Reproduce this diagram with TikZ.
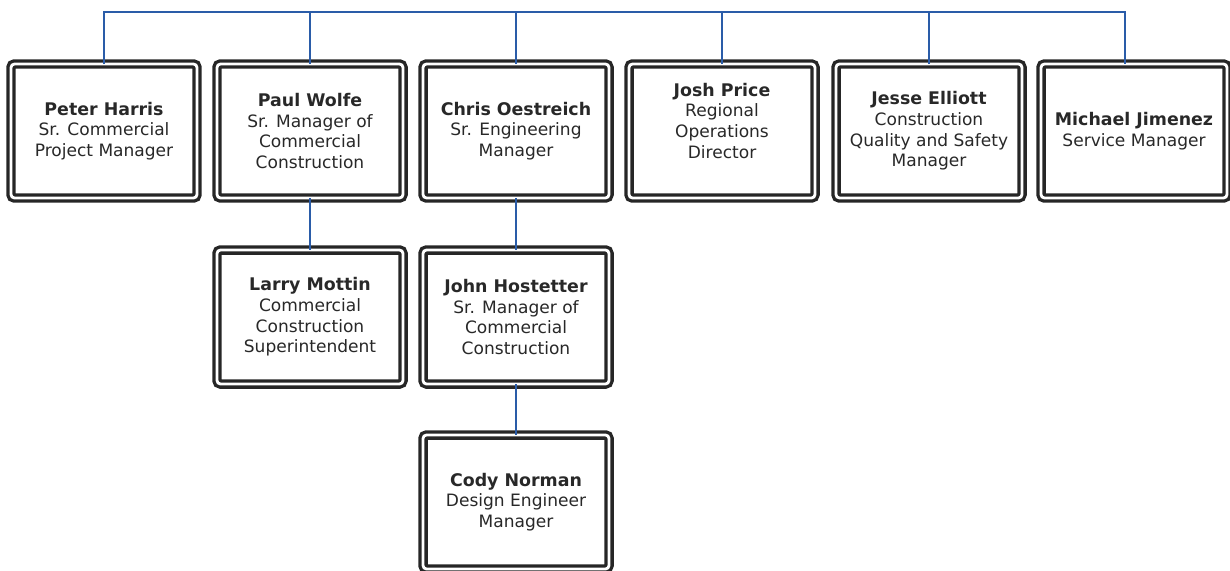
\documentclass[tikz,border=0pt]{standalone}
\usepackage{fontspec}
\setmainfont{DejaVu Sans}
\usetikzlibrary{positioning}
\definecolor{linkblue}{RGB}{42,92,168}
\definecolor{ink}{RGB}{40,40,40}
\tikzset{
  person/.style={draw=black!85, line width=1.9pt, double=white, double distance=1.6pt,
    rounded corners=2pt, minimum width=3.72cm, minimum height=2.68cm, align=center,
    inner sep=0pt, outer sep=0pt, text=ink, font=\fontsize{9.7}{11.8}\selectfont},
  link/.style={draw=linkblue, line width=1.1pt}
}
\newcommand{\who}[1]{{\bfseries\fontsize{9.9}{11.8}\selectfont #1}}

\begin{document}
\begin{tikzpicture}
  \useasboundingbox (0,0) rectangle (24.6,-11.4);
  % first row
  \node[person] (ph) at (2.08,-2.62) {\who{Peter Harris}\\Sr. Commercial\\Project Manager};
  \node[person] (pw) at (6.20,-2.62) {\who{Paul Wolfe}\\Sr. Manager of\\Commercial\\Construction};
  \node[person] (co) at (10.32,-2.62) {\who{Chris Oestreich}\\Sr. Engineering\\Manager};
  \node[person] (jp) at (14.44,-2.62) {\who{Josh Price}\\Regional\\Operations\\Director\\\mbox{}};
  \node[person] (je) at (18.58,-2.62) {\who{Jesse Elliott}\\Construction\\Quality and Safety\\Manager};
  \node[person] (mj) at (22.68,-2.62) {\who{Michael Jimenez}\\Service Manager};
  % second and third row
  \node[person] (lm) at (6.20,-6.34) {\who{Larry Mottin}\\Commercial\\Construction\\Superintendent};
  \node[person] (jh) at (10.32,-6.34) {\who{John Hostetter}\\Sr. Manager of\\Commercial\\Construction};
  \node[person] (cn) at (10.32,-10.04) {\who{Cody Norman}\\Design Engineer\\Manager};
  % connectors
  \coordinate (top) at (0,-0.24);
  \coordinate (mjtop) at ([xshift=-0.18cm]mj.north);
  \draw[link] (ph.north) |- (mjtop |- top) -- (mjtop);
  \foreach \n in {pw,co,jp,je}
    \draw[link] (\n.north) -- (\n.north |- top);
  \draw[link] (pw.south) -- (lm.north);
  \draw[link] (co.south) -- (jh.north);
  \draw[link] (jh.south) -- (cn.north);
\end{tikzpicture}
\end{document}
